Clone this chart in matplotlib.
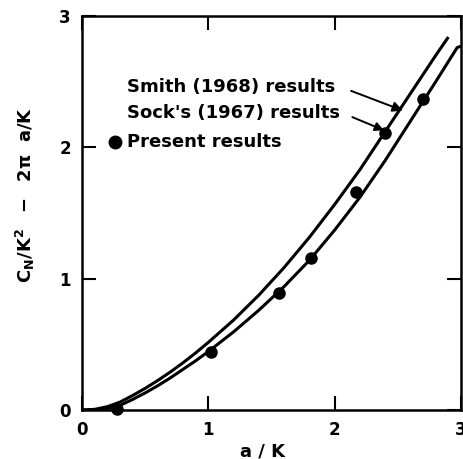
import numpy as np
import matplotlib
matplotlib.use("Agg")
import matplotlib.pyplot as plt

# Smith (1968) curve
smith_x = [0.0, 0.1, 0.2, 0.3, 0.4, 0.5, 0.6, 0.7, 0.8, 0.9, 1.0,
           1.2, 1.4, 1.6, 1.8, 2.0, 2.2, 2.4, 2.6, 2.8, 2.9]
smith_y = [0.0, 0.005, 0.025, 0.06, 0.11, 0.165, 0.225, 0.29, 0.36, 0.435, 0.515,
           0.685, 0.875, 1.085, 1.315, 1.565, 1.83, 2.12, 2.41, 2.70, 2.84]

# Sack's (1967) curve
sack_x = [0.0, 0.1, 0.2, 0.3, 0.4, 0.5, 0.6, 0.7, 0.8, 0.9, 1.0,
          1.2, 1.4, 1.6, 1.8, 2.0, 2.2, 2.4, 2.6, 2.8, 2.97, 3.0]
sack_y = [0.0, 0.0, 0.01, 0.035, 0.08, 0.13, 0.185, 0.245, 0.31, 0.375, 0.445,
          0.595, 0.76, 0.94, 1.14, 1.37, 1.62, 1.90, 2.20, 2.50, 2.76, 2.77]

# present results (filled circles)
pres_x = [0.28, 1.02, 1.56, 1.81, 2.17, 2.40, 2.70]
pres_y = [0.01, 0.44, 0.89, 1.16, 1.66, 2.11, 2.37]

ticks = [0, 1, 2, 3]

plt.rcParams['font.family'] = 'DejaVu Sans'
plt.rcParams['font.weight'] = 'bold'
plt.rcParams['mathtext.fontset'] = 'dejavusans'

W, H = 463, 459
fig = plt.figure(figsize=(W / 100, H / 100), dpi=100)
ax = fig.add_axes([82 / W, 1 - 410 / H, 379 / W, 394 / H])

ax.plot(smith_x, smith_y, color='black', lw=2.2, solid_capstyle='butt')
ax.plot(sack_x, sack_y, color='black', lw=2.2, solid_capstyle='butt')
ax.plot(pres_x, pres_y, 'o', color='black', ms=8, clip_on=False)

ax.set_xlim(0, 3)
ax.set_ylim(0, 3)
ax.set_xticks(ticks)
ax.set_yticks(ticks)
ax.set_xticklabels([str(t) for t in ticks], fontsize=12, fontweight='bold')
ax.set_yticklabels([str(t) for t in ticks], fontsize=12, fontweight='bold')
ax.tick_params(direction='in', length=10, width=1.5, top=True, right=True)
ax.tick_params(axis='x', pad=8)
ax.tick_params(axis='y', pad=8)
for s in ax.spines.values():
    s.set_linewidth(1.8)

fig.text(263 / W, 1 - 451 / H, 'a / K', fontsize=13, fontweight='bold',
         ha='center', va='center')
fig.text(25 / W, 1 - 195 / H, r'$\mathbf{C_N/K^2\ \ -\ \ 2\pi\ \ a/K}$',
         fontsize=13, rotation=90, ha='center', va='center')

# legend-like labels with arrows
ax.text(0.357, 2.46, 'Smith (1968) results', fontsize=13, fontweight='bold', va='center')
ax.text(0.357, 2.26, "Sock's (1967) results", fontsize=13, fontweight='bold', va='center')
ax.plot([0.26], [2.04], 'o', color='black', ms=9)
ax.text(0.357, 2.04, 'Present results', fontsize=13, fontweight='bold', va='center')

ax.annotate('', xy=(2.54, 2.28), xytext=(2.13, 2.43),
            arrowprops=dict(arrowstyle='-|>', color='black', lw=1.4,
                            mutation_scale=15, shrinkA=0, shrinkB=0))
ax.annotate('', xy=(2.39, 2.13), xytext=(2.14, 2.23),
            arrowprops=dict(arrowstyle='-|>', color='black', lw=1.4,
                            mutation_scale=13, shrinkA=0, shrinkB=0))

fig.savefig('out.png', dpi=100)
